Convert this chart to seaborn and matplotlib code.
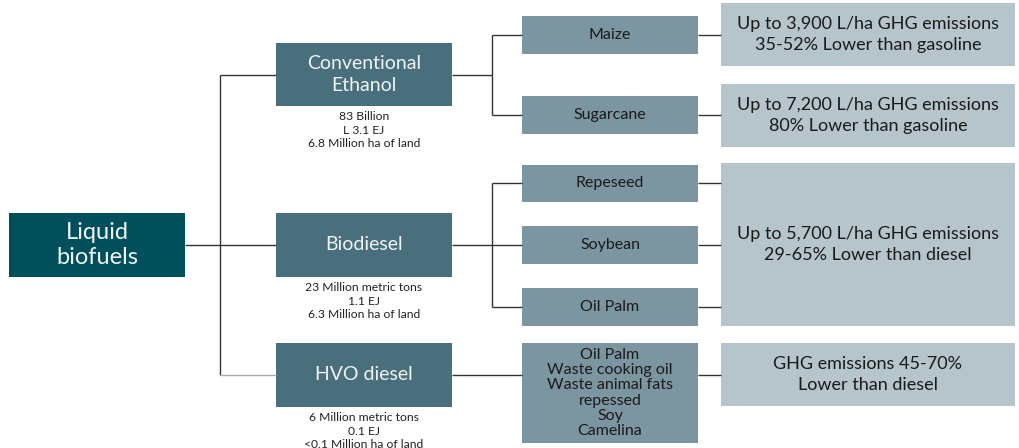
import matplotlib
matplotlib.use("Agg")
import matplotlib.pyplot as plt
import matplotlib.patches as mpatches
import seaborn as sns

# Text content of the tree
root_label = "Liquid\nbiofuels"
fuel_labels = ["Conventional\nEthanol", "Biodiesel", "HVO diesel"]
fuel_notes = [
    "83 Billion\nL 3.1 EJ\n6.8 Million ha of land",
    "23 Million metric tons\n1.1 EJ\n6.3 Million ha of land",
    "6 Million metric tons\n0.1 EJ\n<0.1 Million ha of land",
]
feedstock_labels = ["Maize", "Sugarcane", "Repeseed", "Soybean", "Oil Palm",
                    "Oil Palm\nWaste cooking oil\nWaste animal fats\nrepessed\nSoy\nCamelina"]
outcome_labels = [
    "Up to 3,900 L/ha GHG emissions\n35-52% Lower than gasoline",
    "Up to 7,200 L/ha GHG emissions\n80% Lower than gasoline",
    "Up to 5,700 L/ha GHG emissions\n29-65% Lower than diesel",
    "GHG emissions 45-70%\nLower than diesel",
]

# Layout (pixel space, y down)
root_box = (9, 213, 176, 64)
fuel_boxes = [(276, 43, 176, 63), (276, 213, 176, 64), (276, 343, 176, 64)]
feed_boxes = [(522, 16, 176, 38), (522, 96, 176, 38), (522, 165, 176, 37),
              (522, 226, 176, 38), (522, 288, 176, 38), (522, 343, 176, 100)]
out_boxes = [(721, 3, 294, 63), (721, 84, 294, 63), (721, 163, 294, 163), (721, 343, 294, 63)]
feed_link_y = [35, 115, 183, 245, 307, 375]

c_root, c_fuel, c_feed, c_out = "#004F5D", "#4A6F7C", "#7B96A1", "#B6C4CB"
line_c = "#333333"

sns.set_theme(style="white")
plt.rcParams["font.family"] = ["Lato", "DejaVu Sans"]

fig = plt.figure(figsize=(10.19, 4.48), dpi=100)
ax = fig.add_axes([0, 0, 1, 1])
ax.set_xlim(0, 1019)
ax.set_ylim(448, 0)
ax.axis("off")


def box(b, color, text, tcolor, size, ls=1.0, dy=0):
    x, y, w, h = b
    ax.add_patch(mpatches.Rectangle((x, y), w, h, facecolor=color, edgecolor="none"))
    ax.text(x + w / 2, y + h / 2 + dy, text, ha="center", va="center", color=tcolor,
            fontsize=size, linespacing=ls)


def line(xs, ys, color=line_c, lw=1.0):
    ax.plot(xs, ys, color=color, lw=lw, solid_capstyle="butt")


# connectors root -> fuels
line([185, 220], [245, 245])
line([220, 220], [75, 375])
line([220, 276], [75, 75])
line([220, 276], [245, 245])
line([220, 276], [375, 375], color="#AAAAAA")

# fuels -> feedstocks
line([452, 492], [75, 75])
line([492, 492], [35, 115])
for yy in [35, 115]:
    line([492, 522], [yy, yy])
line([452, 492], [245, 245])
line([492, 492], [183, 307])
for yy in [183, 245, 307]:
    line([492, 522], [yy, yy])
line([452, 522], [375, 375])

# feedstocks -> outcomes
for yy in feed_link_y:
    line([698, 721], [yy, yy])

box(root_box, c_root, root_label, "#F0F4F4", 17, 1.18)
for b, t, n in zip(fuel_boxes, fuel_labels, fuel_notes):
    box(b, c_fuel, t, "#F0F4F4", 14, 1.3)
    x, y, w, h = b
    ax.text(x + w / 2, y + h + 5, n, ha="center", va="top", color="#222222",
            fontsize=8.7, linespacing=1.28)
for i, (b, t) in enumerate(zip(feed_boxes, feedstock_labels)):
    if i < 5:
        box(b, c_feed, t, "#1A1A1A", 11.5)
    else:
        box(b, c_feed, t, "#1A1A1A", 11.5, 1.12)
for b, t in zip(out_boxes, outcome_labels):
    box(b, c_out, t, "#1A1A1A", 13, 1.45)

fig.savefig("out.png", dpi=100)
